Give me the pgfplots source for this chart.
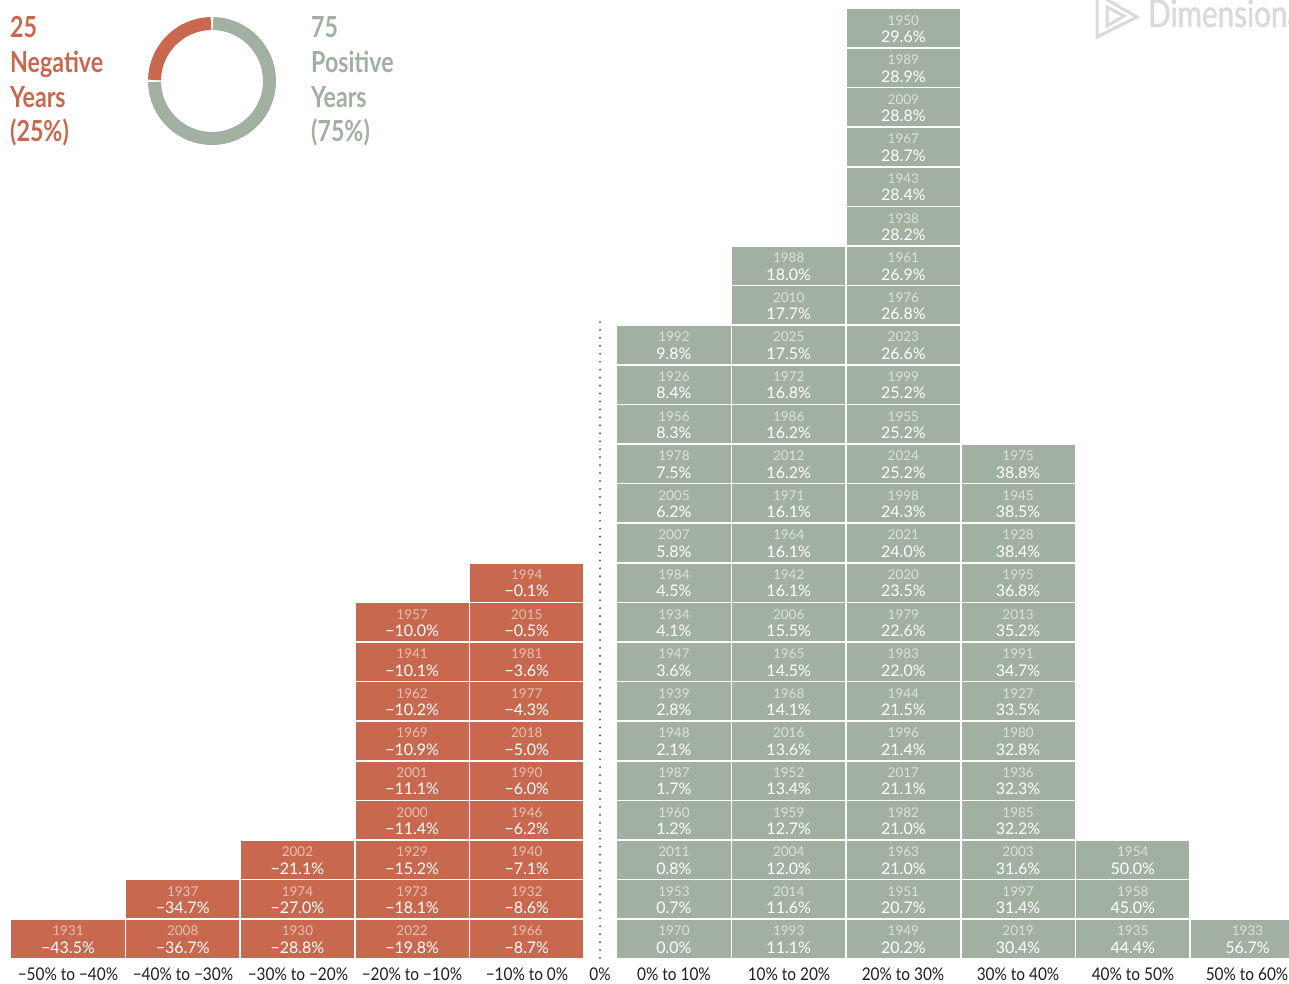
\documentclass[border=0pt]{standalone}
\usepackage{pgfplots}
\pgfplotsset{compat=1.18}
\usepackage{pgfplotstable}
\usepackage{fontspec}
\setmainfont{Lato}
\newfontfamily\condfont[FakeStretch=0.88]{Lato}
\newfontfamily\hdrfont[FakeStretch=0.8]{Lato}
\newfontfamily\logofont[FakeStretch=0.78,FakeBold=1.2]{Lato}
\definecolor{negc}{HTML}{C8694F}
\definecolor{posc}{HTML}{A1B0A1}
\definecolor{negyr}{HTML}{E6BFB2}
\definecolor{posyr}{HTML}{DCE2DC}
\definecolor{dotc}{HTML}{5E6B77}
\definecolor{lblc}{HTML}{1E1E1E}
\definecolor{logoc}{HTML}{DADADA}

\pgfplotstableread{
bin row year val
-45 0 1931 43.5
-35 0 2008 36.7
-35 1 1937 34.7
-25 0 1930 28.8
-25 1 1974 27.0
-25 2 2002 21.1
-15 0 2022 19.8
-15 1 1973 18.1
-15 2 1929 15.2
-15 3 2000 11.4
-15 4 2001 11.1
-15 5 1969 10.9
-15 6 1962 10.2
-15 7 1941 10.1
-15 8 1957 10.0
-5 0 1966 8.7
-5 1 1932 8.6
-5 2 1940 7.1
-5 3 1946 6.2
-5 4 1990 6.0
-5 5 2018 5.0
-5 6 1977 4.3
-5 7 1981 3.6
-5 8 2015 0.5
-5 9 1994 0.1
}\negtable

\pgfplotstableread{
bin row year val
5 0 1970 0.0
5 1 1953 0.7
5 2 2011 0.8
5 3 1960 1.2
5 4 1987 1.7
5 5 1948 2.1
5 6 1939 2.8
5 7 1947 3.6
5 8 1934 4.1
5 9 1984 4.5
5 10 2007 5.8
5 11 2005 6.2
5 12 1978 7.5
5 13 1956 8.3
5 14 1926 8.4
5 15 1992 9.8
15 0 1993 11.1
15 1 2014 11.6
15 2 2004 12.0
15 3 1959 12.7
15 4 1952 13.4
15 5 2016 13.6
15 6 1968 14.1
15 7 1965 14.5
15 8 2006 15.5
15 9 1942 16.1
15 10 1964 16.1
15 11 1971 16.1
15 12 2012 16.2
15 13 1986 16.2
15 14 1972 16.8
15 15 2025 17.5
15 16 2010 17.7
15 17 1988 18.0
25 0 1949 20.2
25 1 1951 20.7
25 2 1963 21.0
25 3 1982 21.0
25 4 2017 21.1
25 5 1996 21.4
25 6 1944 21.5
25 7 1983 22.0
25 8 1979 22.6
25 9 2020 23.5
25 10 2021 24.0
25 11 1998 24.3
25 12 2024 25.2
25 13 1955 25.2
25 14 1999 25.2
25 15 2023 26.6
25 16 1976 26.8
25 17 1961 26.9
25 18 1938 28.2
25 19 1943 28.4
25 20 1967 28.7
25 21 2009 28.8
25 22 1989 28.9
25 23 1950 29.6
35 0 2019 30.4
35 1 1997 31.4
35 2 2003 31.6
35 3 1985 32.2
35 4 1936 32.3
35 5 1980 32.8
35 6 1927 33.5
35 7 1991 34.7
35 8 2013 35.2
35 9 1995 36.8
35 10 1928 38.4
35 11 1945 38.5
35 12 1975 38.8
45 0 1935 44.4
45 1 1958 45.0
45 2 1954 50.0
55 0 1933 56.7
}\postable

\begin{document}
\begin{tikzpicture}
\begin{axis}[
  at={(0pt,0pt)}, anchor=south west,
  scale only axis, width=1289pt, height=983pt,
  xmin=-50.93, xmax=61.45, ymin=-1.111, ymax=23.712,
  hide axis, clip=false,
  base/.style={
    only marks, mark=none,
    point meta=explicit symbolic,
  },
  tilebox/.style={base,
    nodes near coords={},
    every node near coord/.style={anchor=center, fill=#1, draw=white, line width=1.6pt,
      minimum width=114.7pt, minimum height=39.6pt, inner sep=0pt}},
  yrtext/.style={base,
    nodes near coords={\pgfplotspointmeta},
    every node near coord/.style={anchor=center, inner sep=0pt, yshift=8pt, text=#1,
      font=\fontsize{13.5}{15}\selectfont}},
  valtext/.style={base,
    nodes near coords={#1\pgfplotspointmeta\%},
    every node near coord/.style={anchor=center, inner sep=0pt, yshift=-8.5pt, text=white,
      font=\fontsize{16}{17}\selectfont}},
]
% negative years
\addplot[tilebox=negc] table[x=bin, y=row, meta=year] {\negtable};
\addplot[yrtext=negyr] table[x=bin, y=row, meta=year] {\negtable};
\addplot[valtext=−] table[x=bin, y=row, meta=val] {\negtable};
% positive years
\addplot[tilebox=posc] table[x expr=\thisrow{bin}+2.83, y=row, meta=year] {\postable};
\addplot[yrtext=posyr] table[x expr=\thisrow{bin}+2.83, y=row, meta=year] {\postable};
\addplot[valtext={}] table[x expr=\thisrow{bin}+2.83, y=row, meta=val] {\postable};
\end{axis}

% zero line
\draw[dotc, line width=2.4pt, line cap=round, dash pattern=on 0pt off 7.95pt] (600pt,661pt) -- (600pt,25pt);

% category labels
\begin{scope}[every node/.style={text=lblc, font=\condfont\fontsize{17.5}{20}\selectfont, anchor=center, inner sep=0pt}]
\node at (68pt,9pt) {−50\% to −40\%};
\node at (183pt,9pt) {−40\% to −30\%};
\node at (298pt,9pt) {−30\% to −20\%};
\node at (412pt,9pt) {−20\% to −10\%};
\node at (527pt,9pt) {−10\% to 0\%};
\node at (600pt,9pt) {0\%};
\node at (674pt,9pt) {0\% to 10\%};
\node at (789pt,9pt) {10\% to 20\%};
\node at (903pt,9pt) {20\% to 30\%};
\node at (1018pt,9pt) {30\% to 40\%};
\node at (1133pt,9pt) {40\% to 50\%};
\node at (1247pt,9pt) {50\% to 60\%};
\end{scope}

% header
\begin{scope}[every node/.style={font=\hdrfont\bfseries\fontsize{29}{35}\selectfont, anchor=base west, inner sep=0pt}]
\node[text=negc] at (10pt,945pt) {25};
\node[text=negc] at (10pt,910pt) {Negative};
\node[text=negc] at (10pt,875pt) {Years};
\node[text=negc] at (10pt,841pt) {(25\%)};
\node[text=posc] at (311pt,945pt) {75};
\node[text=posc] at (311pt,910pt) {Positive};
\node[text=posc] at (311pt,875pt) {Years};
\node[text=posc] at (311pt,841pt) {(75\%)};
\end{scope}

% donut
\draw[posc, line width=13pt] ([shift={(181:57.5pt)}]212pt,902pt) arc[start angle=181, end angle=449, radius=57.5pt];
\draw[negc, line width=13pt] ([shift={(91:57.5pt)}]212pt,902pt) arc[start angle=91, end angle=179, radius=57.5pt];

% logo
\draw[logoc, line width=3pt, line join=miter] (1104pt,985pt) -- (1137pt,966pt) -- (1097pt,946pt) -- (1097pt,985pt);
\draw[logoc, line width=3pt, line join=miter] (1107pt,976pt) -- (1107pt,957pt) -- (1124pt,967pt) -- cycle;
\node[text=logoc, font=\logofont\fontsize{38}{40}\selectfont, anchor=base west, inner sep=0pt] at (1148pt,956pt) {Dimensional};

\pgfresetboundingbox
\useasboundingbox (0pt,0pt) rectangle (1289pt,983pt);
\end{tikzpicture}
\end{document}
